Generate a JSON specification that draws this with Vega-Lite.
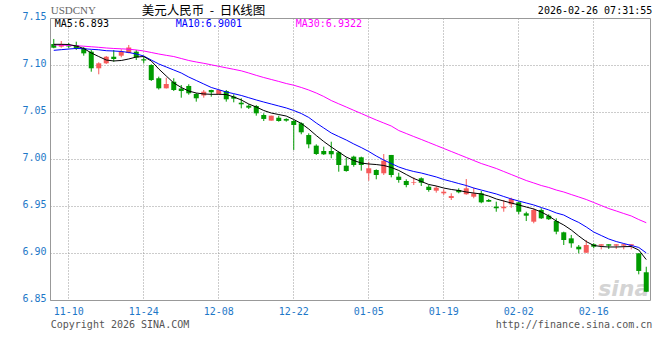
{
  "$schema": "https://vega.github.io/schema/vega-lite/v6.json",
  "width": 600,
  "height": 282,
  "autosize": {"type": "none"},
  "padding": {"left": 50, "top": 18, "right": 10, "bottom": 60},
  "background": "white",
  "config": {
    "view": {"stroke": "#999999", "strokeWidth": 1},
    "font": "DejaVu Sans Mono",
    "axisY": {"domain": false, "ticks": false, "grid": true, "gridColor": "#999999", "gridDash": [1, 2], "labelColor": "#1e78c8", "labelFont": "DejaVu Sans Mono", "labelFontSize": 10, "labelPadding": 4, "labelOffset": -2},
    "axisX": {"domain": false, "ticks": false, "grid": true, "gridColor": "#999999", "gridDash": [1, 2], "labelColor": "#1e78c8", "labelFont": "DejaVu Sans Mono", "labelFontSize": 10, "labelPadding": 6, "labelAngle": 0}
  },
  "data": {"values": [
    {"d":"11-06","o":7.1223,"c":7.1184,"h":7.1277,"l":7.1178,"m5":7.1220,"m10":7.1156,"m30":7.1213},
    {"d":"11-07","o":7.1195,"c":7.1220,"h":7.1255,"l":7.1184,"m5":7.1220,"m10":7.1163,"m30":7.1211},
    {"d":"11-10","o":7.1207,"c":7.1197,"h":7.1234,"l":7.1181,"m5":7.1218,"m10":7.1170,"m30":7.1209},
    {"d":"11-11","o":7.1213,"c":7.1178,"h":7.1248,"l":7.1160,"m5":7.1202,"m10":7.1176,"m30":7.1205},
    {"d":"11-12","o":7.1178,"c":7.1124,"h":7.1191,"l":7.1099,"m5":7.1176,"m10":7.1173,"m30":7.1200},
    {"d":"11-13","o":7.1142,"c":7.0965,"h":7.1160,"l":7.0929,"m5":7.1128,"m10":7.1167,"m30":7.1194},
    {"d":"11-14","o":7.0965,"c":7.1018,"h":7.1029,"l":7.0901,"m5":7.1090,"m10":7.1162,"m30":7.1188},
    {"d":"11-17","o":7.1018,"c":7.1088,"h":7.1096,"l":7.1011,"m5":7.1053,"m10":7.1152,"m30":7.1181},
    {"d":"11-18","o":7.1088,"c":7.1064,"h":7.1160,"l":7.1035,"m5":7.1043,"m10":7.1149,"m30":7.1176},
    {"d":"11-19","o":7.1099,"c":7.1142,"h":7.1167,"l":7.1082,"m5":7.1048,"m10":7.1144,"m30":7.1172},
    {"d":"11-20","o":7.1128,"c":7.1186,"h":7.1213,"l":7.1124,"m5":7.1064,"m10":7.1133,"m30":7.1168},
    {"d":"11-21","o":7.1142,"c":7.1080,"h":7.1160,"l":7.1053,"m5":7.1085,"m10":7.1117,"m30":7.1160},
    {"d":"11-24","o":7.1061,"c":7.1048,"h":7.1088,"l":7.1018,"m5":7.1090,"m10":7.1096,"m30":7.1149},
    {"d":"11-25","o":7.1000,"c":7.0840,"h":7.1008,"l":7.0830,"m5":7.1043,"m10":7.1053,"m30":7.1133},
    {"d":"11-26","o":7.0859,"c":7.0752,"h":7.0876,"l":7.0739,"m5":7.0958,"m10":7.1011,"m30":7.1117},
    {"d":"11-27","o":7.0752,"c":7.0798,"h":7.0865,"l":7.0750,"m5":7.0883,"m10":7.0979,"m30":7.1103},
    {"d":"11-28","o":7.0822,"c":7.0734,"h":7.0859,"l":7.0723,"m5":7.0809,"m10":7.0947,"m30":7.1090},
    {"d":"12-01","o":7.0750,"c":7.0723,"h":7.0787,"l":7.0652,"m5":7.0761,"m10":7.0915,"m30":7.1069},
    {"d":"12-02","o":7.0777,"c":7.0699,"h":7.0795,"l":7.0684,"m5":7.0723,"m10":7.0872,"m30":7.1048},
    {"d":"12-03","o":7.0692,"c":7.0646,"h":7.0702,"l":7.0610,"m5":7.0702,"m10":7.0835,"m30":7.1032},
    {"d":"12-04","o":7.0676,"c":7.0716,"h":7.0734,"l":7.0652,"m5":7.0692,"m10":7.0798,"m30":7.1018},
    {"d":"12-05","o":7.0734,"c":7.0710,"h":7.0737,"l":7.0663,"m5":7.0688,"m10":7.0761,"m30":7.1002},
    {"d":"12-08","o":7.0692,"c":7.0734,"h":7.0742,"l":7.0688,"m5":7.0688,"m10":7.0737,"m30":7.0986},
    {"d":"12-09","o":7.0723,"c":7.0635,"h":7.0734,"l":7.0610,"m5":7.0686,"m10":7.0713,"m30":7.0970},
    {"d":"12-10","o":7.0663,"c":7.0642,"h":7.0688,"l":7.0603,"m5":7.0660,"m10":7.0695,"m30":7.0954},
    {"d":"12-11","o":7.0599,"c":7.0582,"h":7.0646,"l":7.0539,"m5":7.0628,"m10":7.0676,"m30":7.0938},
    {"d":"12-12","o":7.0567,"c":7.0546,"h":7.0582,"l":7.0532,"m5":7.0585,"m10":7.0652,"m30":7.0915},
    {"d":"12-15","o":7.0564,"c":7.0486,"h":7.0574,"l":7.0461,"m5":7.0553,"m10":7.0628,"m30":7.0890},
    {"d":"12-16","o":7.0468,"c":7.0426,"h":7.0486,"l":7.0404,"m5":7.0516,"m10":7.0606,"m30":7.0867},
    {"d":"12-17","o":7.0408,"c":7.0461,"h":7.0461,"l":7.0408,"m5":7.0489,"m10":7.0585,"m30":7.0846},
    {"d":"12-18","o":7.0439,"c":7.0404,"h":7.0461,"l":7.0397,"m5":7.0473,"m10":7.0564,"m30":7.0825},
    {"d":"12-19","o":7.0426,"c":7.0408,"h":7.0433,"l":7.0397,"m5":7.0457,"m10":7.0543,"m30":7.0803},
    {"d":"12-22","o":7.0404,"c":7.0362,"h":7.0415,"l":7.0096,"m5":7.0420,"m10":7.0516,"m30":7.0785},
    {"d":"12-23","o":7.0380,"c":7.0284,"h":7.0390,"l":7.0263,"m5":7.0378,"m10":7.0484,"m30":7.0761},
    {"d":"12-24","o":7.0255,"c":7.0156,"h":7.0273,"l":7.0114,"m5":7.0319,"m10":7.0442,"m30":7.0734},
    {"d":"12-25","o":7.0142,"c":7.0053,"h":7.0156,"l":7.0043,"m5":7.0250,"m10":7.0383,"m30":7.0702},
    {"d":"12-26","o":7.0085,"c":7.0050,"h":7.0131,"l":7.0043,"m5":7.0186,"m10":7.0330,"m30":7.0665},
    {"d":"12-29","o":7.0085,"c":7.0050,"h":7.0184,"l":7.0008,"m5":7.0128,"m10":7.0277,"m30":7.0622},
    {"d":"12-30","o":7.0071,"c":6.9936,"h":7.0085,"l":6.9865,"m5":7.0074,"m10":7.0239,"m30":7.0587},
    {"d":"12-31","o":6.9929,"c":6.9872,"h":7.0014,"l":6.9865,"m5":7.0021,"m10":7.0202,"m30":7.0553},
    {"d":"01-01","o":7.0025,"c":6.9936,"h":7.0035,"l":6.9918,"m5":6.9984,"m10":7.0160,"m30":7.0518},
    {"d":"01-02","o":7.0018,"c":6.9936,"h":7.0025,"l":6.9876,"m5":6.9957,"m10":7.0122,"m30":7.0484},
    {"d":"01-05","o":6.9848,"c":6.9901,"h":6.9971,"l":6.9769,"m5":6.9947,"m10":7.0080,"m30":7.0449},
    {"d":"01-06","o":6.9883,"c":6.9830,"h":6.9890,"l":6.9784,"m5":6.9941,"m10":7.0032,"m30":7.0415},
    {"d":"01-07","o":6.9848,"c":6.9982,"h":7.0053,"l":6.9830,"m5":6.9931,"m10":6.9989,"m30":7.0383},
    {"d":"01-08","o":7.0043,"c":6.9830,"h":7.0043,"l":6.9805,"m5":6.9910,"m10":6.9952,"m30":7.0351},
    {"d":"01-09","o":6.9812,"c":6.9777,"h":6.9854,"l":6.9748,"m5":6.9878,"m10":6.9915,"m30":7.0303},
    {"d":"01-12","o":6.9766,"c":6.9723,"h":6.9784,"l":6.9699,"m5":6.9835,"m10":6.9888,"m30":7.0271},
    {"d":"01-13","o":6.9745,"c":6.9752,"h":6.9805,"l":6.9723,"m5":6.9793,"m10":6.9867,"m30":7.0239},
    {"d":"01-14","o":6.9795,"c":6.9748,"h":6.9805,"l":6.9713,"m5":6.9761,"m10":6.9851,"m30":7.0208},
    {"d":"01-15","o":6.9705,"c":6.9670,"h":6.9723,"l":6.9652,"m5":6.9729,"m10":6.9830,"m30":7.0176},
    {"d":"01-16","o":6.9663,"c":6.9695,"h":6.9713,"l":6.9642,"m5":6.9713,"m10":6.9809,"m30":7.0144},
    {"d":"01-19","o":6.9635,"c":6.9652,"h":6.9678,"l":6.9617,"m5":6.9691,"m10":6.9782,"m30":7.0112},
    {"d":"01-20","o":6.9585,"c":6.9606,"h":6.9635,"l":6.9564,"m5":6.9676,"m10":6.9761,"m30":7.0080},
    {"d":"01-21","o":6.9670,"c":6.9646,"h":6.9688,"l":6.9635,"m5":6.9665,"m10":6.9739,"m30":7.0048},
    {"d":"01-22","o":6.9625,"c":6.9688,"h":6.9787,"l":6.9620,"m5":6.9649,"m10":6.9718,"m30":7.0016},
    {"d":"01-23","o":6.9599,"c":6.9635,"h":6.9695,"l":6.9582,"m5":6.9638,"m10":6.9691,"m30":6.9984},
    {"d":"01-26","o":6.9635,"c":6.9539,"h":6.9660,"l":6.9529,"m5":6.9628,"m10":6.9670,"m30":6.9952},
    {"d":"01-27","o":6.9564,"c":6.9546,"h":6.9575,"l":6.9543,"m5":6.9606,"m10":6.9649,"m30":6.9926},
    {"d":"01-28","o":6.9493,"c":6.9476,"h":6.9546,"l":6.9439,"m5":6.9575,"m10":6.9628,"m30":6.9899},
    {"d":"01-29","o":6.9476,"c":6.9493,"h":6.9564,"l":6.9439,"m5":6.9553,"m10":6.9601,"m30":6.9867},
    {"d":"01-30","o":6.9518,"c":6.9575,"h":6.9588,"l":6.9482,"m5":6.9532,"m10":6.9575,"m30":6.9835},
    {"d":"02-02","o":6.9539,"c":6.9439,"h":6.9546,"l":6.9412,"m5":6.9511,"m10":6.9553,"m30":6.9803},
    {"d":"02-03","o":6.9422,"c":6.9397,"h":6.9439,"l":6.9340,"m5":6.9489,"m10":6.9532,"m30":6.9771},
    {"d":"02-04","o":6.9333,"c":6.9458,"h":6.9476,"l":6.9316,"m5":6.9468,"m10":6.9511,"m30":6.9745},
    {"d":"02-05","o":6.9458,"c":6.9369,"h":6.9476,"l":6.9362,"m5":6.9436,"m10":6.9484,"m30":6.9718},
    {"d":"02-06","o":6.9397,"c":6.9359,"h":6.9412,"l":6.9351,"m5":6.9394,"m10":6.9458,"m30":6.9697},
    {"d":"02-09","o":6.9340,"c":6.9227,"h":6.9369,"l":6.9199,"m5":6.9340,"m10":6.9426,"m30":6.9670},
    {"d":"02-10","o":6.9220,"c":6.9138,"h":6.9227,"l":6.9085,"m5":6.9298,"m10":6.9404,"m30":6.9649},
    {"d":"02-11","o":6.9156,"c":6.9103,"h":6.9192,"l":6.9056,"m5":6.9245,"m10":6.9362,"m30":6.9622},
    {"d":"02-12","o":6.9067,"c":6.9039,"h":6.9085,"l":6.8997,"m5":6.9181,"m10":6.9325,"m30":6.9596},
    {"d":"02-13","o":6.9003,"c":6.9085,"h":6.9138,"l":6.9003,"m5":6.9122,"m10":6.9277,"m30":6.9569},
    {"d":"02-16","o":6.9093,"c":6.9067,"h":6.9103,"l":6.9050,"m5":6.9080,"m10":6.9223,"m30":6.9537},
    {"d":"02-17","o":6.9078,"c":6.9093,"h":6.9093,"l":6.9039,"m5":6.9069,"m10":6.9186,"m30":6.9505},
    {"d":"02-18","o":6.9093,"c":6.9078,"h":6.9093,"l":6.9043,"m5":6.9064,"m10":6.9149,"m30":6.9473},
    {"d":"02-19","o":6.9078,"c":6.9093,"h":6.9093,"l":6.9043,"m5":6.9064,"m10":6.9122,"m30":6.9447},
    {"d":"02-20","o":6.9078,"c":6.9093,"h":6.9093,"l":6.9039,"m5":6.9067,"m10":6.9101,"m30":6.9420},
    {"d":"02-23","o":6.9078,"c":6.9093,"h":6.9093,"l":6.9039,"m5":6.9069,"m10":6.9080,"m30":6.9394},
    {"d":"02-24","o":6.8997,"c":6.8809,"h":6.8997,"l":6.8773,"m5":6.9032,"m10":6.9059,"m30":6.9356},
    {"d":"02-25","o":6.8795,"c":6.8588,"h":6.8854,"l":6.8585,"m5":6.8930,"m10":6.9001,"m30":6.9322}
  ]},
  "encoding": {
    "x": {
      "field": "d", "type": "ordinal", "sort": null,
      "scale": {"type": "band", "paddingInner": 0, "paddingOuter": 0, "domain": ["11-06","11-07","11-10","11-11","11-12","11-13","11-14","11-17","11-18","11-19","11-20","11-21","11-24","11-25","11-26","11-27","11-28","12-01","12-02","12-03","12-04","12-05","12-08","12-09","12-10","12-11","12-12","12-15","12-16","12-17","12-18","12-19","12-22","12-23","12-24","12-25","12-26","12-29","12-30","12-31","01-01","01-02","01-05","01-06","01-07","01-08","01-09","01-12","01-13","01-14","01-15","01-16","01-19","01-20","01-21","01-22","01-23","01-26","01-27","01-28","01-29","01-30","02-02","02-03","02-04","02-05","02-06","02-09","02-10","02-11","02-12","02-13","02-16","02-17","02-18","02-19","02-20","02-23","02-24","02-25"]},
      "axis": {"title": null, "values": ["11-10","11-24","12-08","12-22","01-05","01-19","02-02","02-16"], "bandPosition": 0.5}
    }
  },
  "layer": [
    {
      "data": {"values": [{}]},
      "mark": {"type": "text", "text": "sina", "font": "DejaVu Sans", "fontSize": 22, "fontWeight": "bold", "fontStyle": "italic", "color": "#d4d4d4", "align": "center", "baseline": "middle"},
      "encoding": {"x": {"datum": "02-20"}, "y": {"datum": 6.862, "type": "quantitative", "scale": {"domain": [6.85, 7.15], "nice": false, "zero": false}, "axis": {"title": null, "values": [6.85, 6.9, 6.95, 7.0, 7.05, 7.1, 7.15], "format": ".2f"}}}
    },
    {
      "mark": {"type": "rule", "strokeWidth": 1},
      "encoding": {
        "y": {"field": "l", "type": "quantitative", "axis": {"title": null}},
        "y2": {"field": "h"},
        "color": {"condition": {"test": "datum.c >= datum.o", "value": "#f65a5a"}, "value": "#009b00"}
      }
    },
    {
      "mark": {"type": "bar", "size": 5},
      "encoding": {
        "y": {"field": "o", "type": "quantitative", "axis": {"title": null}},
        "y2": {"field": "c"},
        "color": {"condition": {"test": "datum.c >= datum.o", "value": "#f65a5a"}, "value": "#009b00"}
      }
    },
    {
      "mark": {"type": "line", "strokeWidth": 1, "color": "#ff00ff"},
      "encoding": {"y": {"field": "m30", "type": "quantitative", "axis": {"title": null}}}
    },
    {
      "mark": {"type": "line", "strokeWidth": 1, "color": "#0000ff"},
      "encoding": {"y": {"field": "m10", "type": "quantitative", "axis": {"title": null}}}
    },
    {
      "mark": {"type": "line", "strokeWidth": 1, "color": "#000000"},
      "encoding": {"y": {"field": "m5", "type": "quantitative", "axis": {"title": null}}}
    },
    {
      "data": {"values": [{}]},
      "mark": {"type": "text", "text": "MA5:6.893", "font": "DejaVu Sans Mono", "fontSize": 10, "color": "#000000", "align": "left", "baseline": "middle", "dx": 1},
      "encoding": {"x": {"datum": "11-06"}, "y": {"datum": 7.1431, "type": "quantitative"}}
    },
    {
      "data": {"values": [{}]},
      "mark": {"type": "text", "text": "MA10:6.9001", "font": "DejaVu Sans Mono", "fontSize": 10, "color": "#0000ff", "align": "left", "baseline": "middle", "dx": 2},
      "encoding": {"x": {"datum": "11-28"}, "y": {"datum": 7.1431, "type": "quantitative"}}
    },
    {
      "data": {"values": [{}]},
      "mark": {"type": "text", "text": "MA30:6.9322", "font": "DejaVu Sans Mono", "fontSize": 10, "color": "#ff00ff", "align": "left", "baseline": "middle", "dx": 2},
      "encoding": {"x": {"datum": "12-22"}, "y": {"datum": 7.1431, "type": "quantitative"}}
    },
    {
      "data": {"values": [{}]},
      "mark": {"type": "text", "text": "USDCNY", "font": "Liberation Serif", "fontSize": 11, "color": "#666666", "align": "left", "baseline": "middle", "dx": -3},
      "encoding": {"x": {"datum": "11-06"}, "y": {"datum": 7.1574, "type": "quantitative"}}
    },
    {
      "data": {"values": [{}]},
      "mark": {"type": "text", "text": "美元人民币\u00a0\u00a0-\u00a0\u00a0日K线图", "font": "Noto Sans CJK SC", "fontSize": 12.5, "color": "#000000", "align": "left", "baseline": "middle", "dx": -2},
      "encoding": {"x": {"datum": "11-24"}, "y": {"datum": 7.1578, "type": "quantitative"}}
    },
    {
      "data": {"values": [{}]},
      "mark": {"type": "text", "text": "2026-02-26 07:31:55", "font": "DejaVu Sans Mono", "fontSize": 10, "color": "#000000", "align": "right", "baseline": "middle", "dx": 6},
      "encoding": {"x": {"datum": "02-25"}, "y": {"datum": 7.1574, "type": "quantitative"}}
    },
    {
      "data": {"values": [{}]},
      "mark": {"type": "text", "text": "Copyright 2026 SINA.COM", "font": "DejaVu Sans Mono", "fontSize": 10, "color": "#555555", "align": "left", "baseline": "middle", "dx": -3},
      "encoding": {"x": {"datum": "11-06"}, "y": {"datum": 6.8234, "type": "quantitative"}}
    },
    {
      "data": {"values": [{}]},
      "mark": {"type": "text", "text": "http://finance.sina.com.cn", "font": "DejaVu Sans Mono", "fontSize": 10, "color": "#555555", "align": "right", "baseline": "middle", "dx": 6},
      "encoding": {"x": {"datum": "02-25"}, "y": {"datum": 6.8234, "type": "quantitative"}}
    }
  ]
}
